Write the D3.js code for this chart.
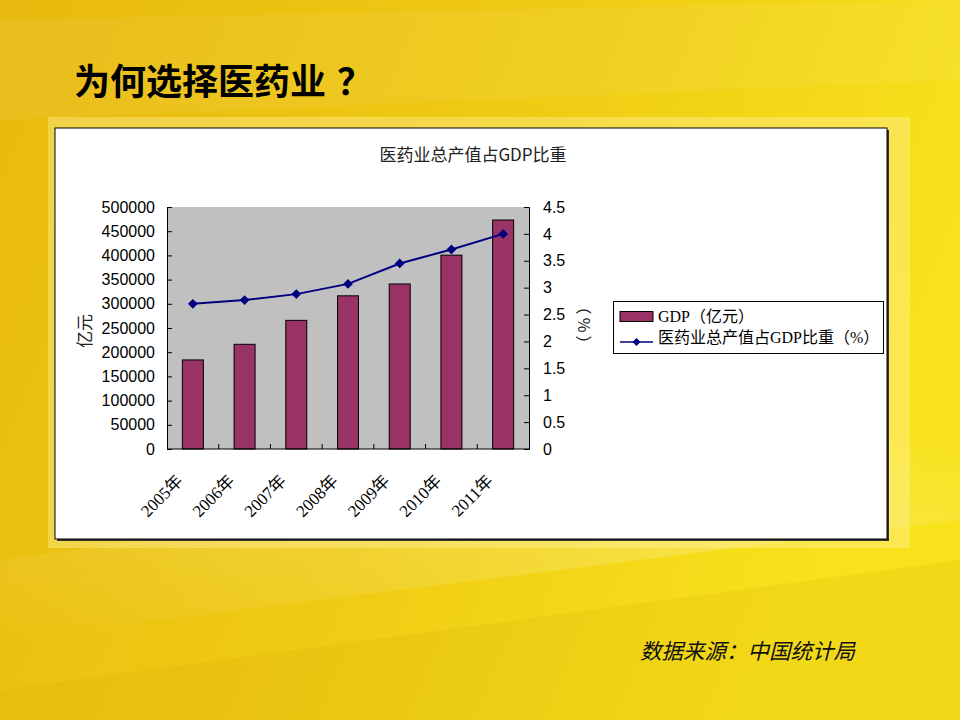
<!DOCTYPE html>
<html><head><meta charset="utf-8">
<script src="https://cdn.jsdelivr.net/npm/d3@7"></script>
<style>body{margin:0;}svg{display:block;}</style>
</head><body>
<svg id="c" width="960" height="720"></svg>
<script>
const categories = ["2005年","2006年","2007年","2008年","2009年","2010年","2011年"];
const gdpValues = [184000, 216300, 265800, 316500, 341000, 400500, 473100];
const shareValues = [2.70, 2.77, 2.88, 3.07, 3.45, 3.71, 4.00];
const leftTicks = [0,50000,100000,150000,200000,250000,300000,350000,400000,450000,500000];
const rightTicks = [0,0.5,1,1.5,2,2.5,3,3.5,4,4.5];
const titleText = "为何选择医药业";
const titleMark = "？";
const chartTitle = "医药业总产值占GDP比重";
const leftAxisTitle = "亿元";
const rightAxisTitle = ["（","%","）"];
const legendLabels = ["GDP（亿元）","医药业总产值占GDP比重（%）"];
const sourceText = "数据来源：中国统计局";

const svg = d3.select("#c");
const defs = svg.append("defs");
const bg = defs.append("linearGradient").attr("id","bg").attr("x1","0").attr("y1","0").attr("x2","1").attr("y2","0.3");
bg.append("stop").attr("offset","0").attr("stop-color","#E8B90E");
bg.append("stop").attr("offset","0.55").attr("stop-color","#EFCB14");
bg.append("stop").attr("offset","1").attr("stop-color","#F8E21C");
svg.append("rect").attr("width",960).attr("height",720).attr("fill","url(#bg)");
const sh = defs.append("linearGradient").attr("id","sh").attr("x1","0").attr("y1","1").attr("x2","1").attr("y2","0");
sh.append("stop").attr("offset","0").attr("stop-color","#fff").attr("stop-opacity","0");
sh.append("stop").attr("offset","0.6").attr("stop-color","#fff").attr("stop-opacity","0.18");
sh.append("stop").attr("offset","1").attr("stop-color","#fff").attr("stop-opacity","0");
svg.append("path").attr("d","M0,560 L960,430 L960,520 L0,640 Z").attr("fill","url(#sh)");
svg.append("path").attr("d","M0,20 L960,0 L960,80 L0,120 Z").attr("fill","#fff").attr("opacity",0.06);
svg.append("path").attr("d","M0,720 L0,690 L960,560 L960,720 Z").attr("fill","#C9A000").attr("opacity",0.12);

// Title
svg.append("text").attr("x",74).attr("y",95).text(titleText)
  .attr("font-family","'Noto Sans CJK SC', sans-serif").attr("font-weight",700)
  .attr("font-size",36).attr("fill","#000");
svg.append("text").attr("x",337).attr("y",95).text(titleMark)
  .attr("font-family","'Noto Sans CJK SC', sans-serif").attr("font-weight",700)
  .attr("font-size",36).attr("fill","#000");

// Backing panel
svg.append("rect").attr("x",48).attr("y",117).attr("width",862).attr("height",431)
  .attr("fill","#FFF3A0").attr("opacity",0.4);
// Chart box
svg.append("rect").attr("x",57).attr("y",130).attr("width",832).attr("height",411).attr("fill","#333");
svg.append("rect").attr("x",55).attr("y",128).attr("width",832).attr("height",411)
  .attr("fill","#fff").attr("stroke","#000").attr("stroke-width",1);

// Chart title
svg.append("text").attr("x",473).attr("y",161).attr("text-anchor","middle").text(chartTitle)
  .attr("font-family","'Noto Sans CJK SC', 'Liberation Sans', sans-serif").attr("font-size",17).attr("fill","#222");

const pl = 167, pr = 529, pt = 207, pb = 449;
const xb = d3.scaleBand().domain(categories).range([pl,pr]);
const yL = d3.scaleLinear().domain([0,500000]).range([pb,pt]);
const yR = d3.scaleLinear().domain([0,4.5]).range([pb,pt]);
const cx = d => xb(d)+xb.bandwidth()/2;

svg.append("rect").attr("x",pl).attr("y",pt).attr("width",pr-pl).attr("height",pb-pt).attr("fill","#C0C0C0");

svg.append("g").selectAll("rect").data(categories).join("rect")
  .attr("x",d=>cx(d)-10.5).attr("width",21)
  .attr("y",(d,i)=>yL(gdpValues[i])).attr("height",(d,i)=>pb-yL(gdpValues[i]))
  .attr("fill","#993366").attr("stroke","#000").attr("stroke-width",1);

// Axes
const axL = svg.append("g").attr("transform",`translate(${pl},0)`)
  .call(d3.axisLeft(yL).tickValues(leftTicks).tickSize(-5).tickPadding(12).tickFormat(d3.format("d")));
const axR = svg.append("g").attr("transform",`translate(${pr},0)`)
  .call(d3.axisRight(yR).tickValues(rightTicks).tickSize(-5).tickPadding(14).tickFormat(d=>String(d)));
[axL,axR].forEach(a=>{
  a.select(".domain").attr("stroke","#000");
  a.selectAll(".tick line").attr("stroke","#000");
  a.selectAll("text").attr("font-family","'Liberation Sans', Arial, sans-serif").attr("font-size",16).attr("fill","#000");
});
const bx = svg.append("g").attr("transform",`translate(0,${pb})`);
bx.append("line").attr("x1",pl).attr("x2",pr).attr("stroke","#000");
bx.selectAll("line.t").data(categories.slice(1)).join("line").attr("class","t")
  .attr("x1",d=>xb(d)).attr("x2",d=>xb(d)).attr("y1",0).attr("y2",-5).attr("stroke","#000");
bx.selectAll("text").data(categories).join("text")
  .attr("transform",d=>`translate(${cx(d)-9},${33}) rotate(-45)`)
  .attr("text-anchor","end").text(d=>d)
  .attr("font-family","'Liberation Serif', 'Noto Sans CJK SC', serif").attr("font-size",17).attr("fill","#000");

// Line
const line = d3.line().x((d,i)=>cx(categories[i])).y(d=>yR(d));
svg.append("path").datum(shareValues).attr("d",line).attr("fill","none").attr("stroke","#000080").attr("stroke-width",2);
svg.append("g").selectAll("path").data(shareValues).join("path")
  .attr("d",d3.symbol().type(d3.symbolSquare).size(48))
  .attr("transform",(d,i)=>`translate(${cx(categories[i])},${yR(d)}) rotate(45)`)
  .attr("fill","#000080");

// Axis titles
svg.append("text").attr("transform",`translate(91,331) rotate(-90)`).attr("text-anchor","middle").text(leftAxisTitle)
  .attr("font-family","'Noto Sans CJK SC', sans-serif").attr("font-size",17).attr("fill","#222");
svg.append("text").attr("transform",`translate(578,325) rotate(90)`).attr("text-anchor","middle")
  .selectAll("tspan").data(rightAxisTitle).join("tspan").text(d=>d)
  .attr("dx",(d,i)=>i===0?0:3)
  .attr("font-family","'Noto Sans CJK SC', sans-serif").attr("font-size",16).attr("fill","#222");

// Legend
const lg = svg.append("g");
lg.append("rect").attr("x",613.5).attr("y",301.5).attr("width",270).attr("height",52).attr("fill","#fff").attr("stroke","#000");
lg.append("rect").attr("x",620).attr("y",311.5).attr("width",33).attr("height",10).attr("fill","#993366").attr("stroke","#000");
lg.append("line").attr("x1",620).attr("x2",653).attr("y1",342).attr("y2",342).attr("stroke","#000080").attr("stroke-width",1.5);
lg.append("path").attr("d",d3.symbol().type(d3.symbolSquare).size(34)).attr("transform","translate(636.5,342) rotate(45)").attr("fill","#000080");
lg.selectAll("text").data(legendLabels).join("text")
  .attr("x",658).attr("y",(d,i)=>322+i*21).text(d=>d)
  .attr("font-family","'Liberation Serif', 'Noto Sans CJK SC', serif").attr("font-size",16).attr("fill","#000");

// Source
svg.append("text").attr("x",640).attr("y",659).text(sourceText)
  .attr("font-family","'Noto Sans CJK SC', sans-serif").attr("font-style","italic").attr("font-size",21.5)
  .attr("fill","#111");
</script>
</body></html>
